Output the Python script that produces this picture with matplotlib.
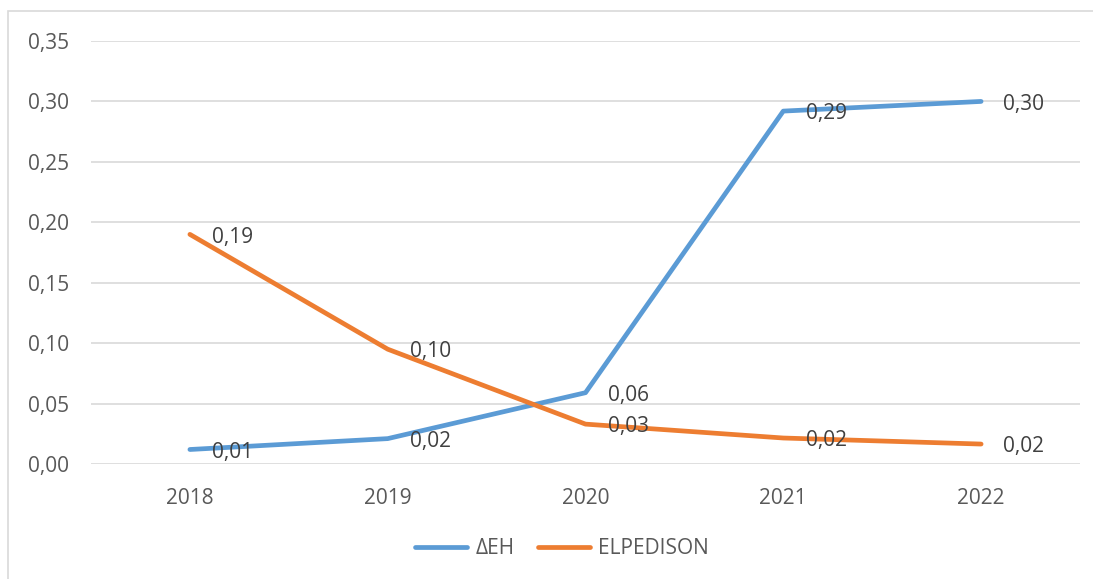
import matplotlib.pyplot as plt
from matplotlib.patches import Rectangle

# data
years = ["2018", "2019", "2020", "2021", "2022"]
deh = [0.012, 0.021, 0.059, 0.292, 0.300]
elpedison = [0.190, 0.095, 0.033, 0.0215, 0.0165]
deh_labels = ["0,01", "0,02", "0,06", "0,29", "0,30"]
elp_labels = ["0,19", "0,10", "0,03", "0,02", "0,02"]
yticks = [0.0, 0.05, 0.10, 0.15, 0.20, 0.25, 0.30, 0.35]

plt.rcParams['font.family'] = ['Open Sans', 'DejaVu Sans']

W, H = 1093, 579
fig = plt.figure(figsize=(W / 100, H / 100), dpi=100)

# outer chart border
fig.patches.append(Rectangle((8 / W, -0.1), 1.2, 1 - 11 / H + 0.1,
                             transform=fig.transFigure, fill=False,
                             edgecolor="#D9D9D9", linewidth=1.2))

ax = fig.add_axes([91 / W, 1 - 464 / H, (1080 - 91) / W, (464 - 41) / H])

x = list(range(len(years)))
blue = "#5B9BD5"
orange = "#ED7D31"
ax.plot(x, deh, color=blue, lw=3.4, label="ΔΕΗ", solid_capstyle="round", zorder=3)
ax.plot(x, elpedison, color=orange, lw=3.4, label="ELPEDISON", solid_capstyle="round", zorder=3)

for xi, v, s in zip(x, deh, deh_labels):
    ax.annotate(s, (xi, v), xytext=(16, -2), textcoords="offset points",
                ha="left", va="center", fontsize=15, color="#404040", zorder=4)
for xi, v, s in zip(x, elpedison, elp_labels):
    ax.annotate(s, (xi, v), xytext=(16, -2), textcoords="offset points",
                ha="left", va="center", fontsize=15, color="#404040", zorder=4)

ax.set_xlim(-0.5, 4.5)
ax.set_ylim(0, 0.35)
ax.set_xticks(x)
ax.set_xticklabels(years)
ax.set_yticks(yticks)
ax.set_yticklabels([f"{t:.2f}".replace(".", ",") for t in yticks])
ax.tick_params(axis="both", length=0, labelsize=15, colors="#595959")
ax.tick_params(axis="y", pad=16)
ax.tick_params(axis="x", pad=17)
ax.grid(axis="y", color="#D9D9D9", lw=1.2)
ax.set_axisbelow(True)
for sp in ax.spines.values():
    sp.set_visible(False)

leg = fig.legend(loc="center", bbox_to_anchor=(562 / W, 1 - 549 / H), ncol=2,
                 frameon=False, fontsize=15, handlelength=2.5, handletextpad=0.4,
                 columnspacing=1.1)
for t in leg.get_texts():
    t.set_color("#595959")

fig.savefig("out.png", dpi=100)
